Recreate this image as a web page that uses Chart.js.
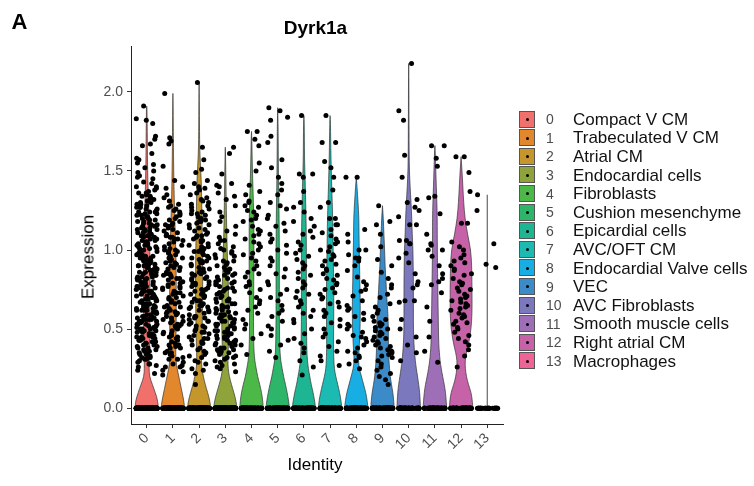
<!DOCTYPE html>
<html><head><meta charset="utf-8">
<script src="https://cdn.jsdelivr.net/npm/chart.js@4.4.0/dist/chart.umd.min.js"></script>
<style>
html,body{margin:0;padding:0;background:#fff;}
#wrap{position:relative;width:754px;height:486px;overflow:hidden;}
canvas{position:absolute;left:0;top:0;}
.t{position:absolute;font-family:"Liberation Sans",Arial,Helvetica,sans-serif;white-space:nowrap;line-height:1;}
.sw{position:absolute;box-sizing:border-box;border:1px solid #555;width:16px;height:17px;}
.sw i{position:absolute;left:6px;top:6.5px;width:3px;height:3px;border-radius:50%;background:#000;}
</style></head><body>
<div id="wrap">
<canvas id="c" width="754" height="486"></canvas>
<div class="t" style="left:11.5px;top:11.4px;font-weight:bold;font-size:22px;">A</div>
<div class="t" style="left:315.5px;top:17.5px;font-weight:bold;font-size:19px;transform:translateX(-50%);">Dyrk1a</div>
<div class="t" style="left:315px;top:455.8px;font-size:17px;transform:translateX(-50%);">Identity</div>
<div class="t" style="left:88px;top:257px;font-size:17px;transform:translate(-50%,-50%) rotate(-90deg);">Expression</div>
<div id="legend"></div>
</div>
<script>
const categories = ['0','1','2','3','4','5','6','7','8','9','10','11','12','13'];
const cellTypes = ['Compact V CM','Trabeculated V CM','Atrial CM','Endocardial cells','Fibroblasts','Cushion mesenchyme','Epicardial cells','AVC/OFT CM','Endocardial Valve cells','VEC','AVC Fibroblasts','Smooth muscle cells','Right atrial CM','Macrophages'];
const colors = ['#F1706C','#E2872C','#C4962B','#8EA33A','#4CB848','#2DB56A','#1EB592','#1BBAB2','#18AEE3','#3A8BC8','#7B78BE','#9E6FB6','#C562A8','#EE6496'];
const yTicks = [0.0, 0.5, 1.0, 1.5, 2.0];

// number of cells with zero expression per identity (estimated)
const zeroCells = [300,180,180,200,120,120,120,130,120,120,80,80,80,30];

// non-zero expression values per identity
const expr0 = [1.91,1.83,1.82,1.80,1.72,1.70,1.67,1.66,1.61,1.58,1.57,1.55,1.54,1.52,1.50,1.49,1.47,1.46,1.45,1.43,1.42,1.40,1.40,1.38,1.37,1.36,1.36,1.34,1.33,1.31,1.30,1.30,1.29,1.27,1.27,1.26,1.24,1.24,1.23,1.21,1.21,1.20,1.19,1.17,1.17,1.16,1.14,1.13,1.13,1.12,1.10,1.10,1.09,1.08,1.06,1.06,1.05,1.03,1.03,1.02,1.01,0.99,0.99,0.98,0.97,0.95,0.95,0.94,0.92,0.92,0.91,0.90,0.89,0.88,0.88,0.86,0.85,0.85,0.84,0.82,0.82,0.81,0.80,0.78,0.78,0.77,0.76,0.75,0.74,0.73,0.73,0.71,0.70,0.70,0.69,0.68,0.66,0.66,0.65,0.64,0.63,0.62,0.61,0.60,0.60,0.58,0.58,0.57,0.55,0.55,0.54,0.53,0.52,0.51,0.50,0.49,0.48,0.48,0.47,0.45,0.45,0.44,0.43,0.42,0.41,0.40,0.39,0.38,0.37,0.36,0.35,0.34,0.33,0.32,0.31,0.30,0.28,0.27,0.26,0.24,0.22,1.28,1.25,1.22,1.18,1.15,1.11,1.07,1.04,1.00,0.96,0.93,0.90,0.87,0.83,0.79,0.76,0.72,0.68,0.64,0.61,0.57,0.53,0.49,0.46,0.43,1.26,1.19,1.12,1.05,0.98,0.91,0.84,0.77,0.71,0.63,0.56,0.50,0.44,1.34,1.29,1.23,1.20,1.16,1.14,1.11,1.09,1.07,1.04,1.02,1.01,0.99,0.97,0.96,0.94,0.93,0.91,0.89,0.87,0.86,0.84,0.83,0.81,0.79,0.78,0.76,0.74,0.73,0.72,0.70,0.69,0.67,0.66,0.64,0.62,0.61,0.59,0.58,0.56,0.55,0.53,0.52,0.50,0.49,0.47,0.46,0.44,0.42,0.41,0.39,0.37,0.35,0.33,0.31,0.29,1.31,1.24,1.18,1.13,1.08,1.05,1.01,0.97,0.94,0.90,0.86,0.83,0.80,0.77,0.74,0.71,0.68,0.65,0.62,0.59,0.56,0.53,0.50,0.47,0.43,0.40,0.36,0.32,1.39,1.35,1.32,1.27,1.22,1.15,1.09,1.03,0.96,0.89,0.82,0.75,0.69,0.62,0.57,0.51,0.45,0.38,0.34,0.28];
const expr1 = [1.99,1.71,1.69,1.67,1.53,1.44,1.40,1.39,1.35,1.33,1.29,1.27,1.26,1.24,1.22,1.21,1.19,1.18,1.16,1.15,1.14,1.12,1.11,1.09,1.08,1.07,1.05,1.04,1.03,1.01,1.00,0.99,0.97,0.96,0.95,0.93,0.92,0.91,0.89,0.88,0.87,0.85,0.84,0.83,0.81,0.80,0.79,0.77,0.76,0.75,0.73,0.72,0.71,0.69,0.68,0.67,0.65,0.64,0.63,0.61,0.60,0.59,0.57,0.56,0.55,0.53,0.52,0.50,0.49,0.47,0.46,0.44,0.43,0.41,0.40,0.38,0.36,0.35,0.33,0.31,0.29,0.28,0.26,0.24,0.21,1.23,1.13,1.06,0.98,0.94,0.90,0.86,0.82,0.78,0.74,0.70,0.66,0.62,0.58,0.54,0.51,0.45,0.39,0.34,0.27,1.31,1.25,1.20,1.17,1.10,1.07,1.02,0.99,0.95,0.92,0.89,0.85,0.82,0.79,0.76,0.73,0.70,0.67,0.64,0.61,0.58,0.55,0.52,0.48,0.45,0.42,0.38,0.35,0.31,0.26,1.28,1.16,1.08,1.00,0.91,0.84,0.77,0.69,0.60,0.53,0.47,0.40,0.32,0.23];
const expr2 = [2.06,1.65,1.57,1.51,1.49,1.44,1.42,1.40,1.38,1.36,1.35,1.32,1.30,1.29,1.27,1.26,1.24,1.23,1.21,1.20,1.18,1.17,1.16,1.14,1.13,1.11,1.10,1.09,1.07,1.06,1.04,1.03,1.02,1.00,0.99,0.98,0.96,0.95,0.93,0.92,0.91,0.89,0.88,0.86,0.85,0.84,0.82,0.81,0.79,0.78,0.77,0.75,0.74,0.72,0.71,0.70,0.68,0.67,0.65,0.64,0.63,0.61,0.60,0.58,0.57,0.56,0.54,0.53,0.51,0.50,0.48,0.47,0.45,0.44,0.42,0.40,0.38,0.36,0.34,0.32,0.30,0.28,0.25,0.22,0.15,1.25,1.19,1.12,1.05,1.01,0.97,0.94,0.90,0.87,0.83,0.80,0.76,0.73,0.69,0.66,0.62,0.59,0.55,0.52,0.46,0.41,1.33,1.28,1.22,1.18,1.14,1.09,1.06,1.02,0.99,0.95,0.92,0.88,0.85,0.82,0.78,0.75,0.72,0.68,0.65,0.62,0.58,0.55,0.52,0.48,0.44,0.41,0.37,0.33,0.29,0.24,1.39,1.31,1.23,1.16,1.08,1.00,0.93,0.86,0.79,0.71,0.64,0.57,0.49,0.43,0.35];
const expr3 = [1.65,1.61,1.48,1.42,1.41,1.40,1.36,1.34,1.32,1.28,1.24,1.21,1.18,1.15,1.12,1.10,1.08,1.06,1.04,1.02,1.00,0.98,0.97,0.95,0.93,0.92,0.90,0.89,0.87,0.86,0.84,0.83,0.82,0.80,0.79,0.78,0.76,0.75,0.74,0.73,0.71,0.70,0.69,0.68,0.67,0.65,0.64,0.63,0.62,0.61,0.60,0.59,0.58,0.57,0.56,0.55,0.54,0.53,0.52,0.51,0.50,0.49,0.48,0.47,0.46,0.45,0.44,0.43,0.42,0.41,0.40,0.39,0.38,0.37,0.36,0.35,0.34,0.33,0.32,0.30,0.29,0.27,0.25,0.23,0.91,0.85,0.81,0.77,0.72,0.66,0.62,0.58,0.54,0.50,0.47,0.44,0.40,0.36,0.31,1.06,1.01,0.96,0.93,0.88,0.84,0.79,0.76,0.73,0.69,0.66,0.63,0.60,0.57,0.55,0.52,0.49,0.46,0.43,0.41,0.38,0.35,0.32,0.28,0.99,0.87,0.80,0.74,0.68,0.64,0.59,0.53,0.48,0.42,0.37,0.26];
const expr4 = [1.75,1.75,1.70,1.66,1.55,1.50,1.41,1.37,1.35,1.31,1.30,1.28,1.27,1.25,1.24,1.22,1.20,1.19,1.18,1.15,1.13,1.12,1.10,1.09,1.07,1.05,1.04,1.02,1.00,0.98,0.97,0.95,0.93,0.90,0.88,0.86,0.85,0.83,0.80,0.78,0.77,0.75,0.73,0.70,0.68,0.66,0.64,0.62,0.60,0.56,0.53,0.50,0.47,0.44,0.40,0.34];
const expr5 = [1.90,1.88,1.84,1.82,1.72,1.68,1.57,1.52,1.46,1.42,1.38,1.35,1.30,1.28,1.26,1.22,1.20,1.17,1.15,1.12,1.10,1.07,1.05,1.03,1.00,0.98,0.95,0.93,0.90,0.88,0.85,0.83,0.80,0.78,0.75,0.72,0.70,0.68,0.65,0.62,0.60,0.58,0.55,0.52,0.50,0.46,0.43,0.40,0.36,0.32];
const expr6 = [1.85,1.48,1.48,1.46,1.37,1.30,1.27,1.24,1.20,1.18,1.15,1.12,1.10,1.08,1.05,1.03,1.00,0.98,0.96,0.94,0.92,0.90,0.88,0.86,0.84,0.82,0.80,0.78,0.76,0.74,0.72,0.70,0.68,0.66,0.64,0.62,0.60,0.58,0.56,0.54,0.50,0.47,0.44,0.41,0.38,0.35,0.30,0.26,0.21];
const expr7 = [1.85,1.68,1.68,1.56,1.52,1.46,1.38,1.30,1.27,1.20,1.20,1.16,1.16,1.13,1.11,1.09,1.07,1.05,1.04,1.02,1.00,0.99,0.97,0.96,0.94,0.93,0.91,0.90,0.88,0.87,0.85,0.84,0.82,0.81,0.79,0.78,0.76,0.75,0.73,0.72,0.70,0.69,0.67,0.66,0.64,0.62,0.60,0.58,0.56,0.54,0.52,0.50,0.47,0.45,0.42,0.39,0.36,0.33,0.30,0.27];
const expr8 = [1.46,1.46,1.13,1.10,1.05,1.00,1.00,0.97,0.95,0.95,0.93,0.90,0.87,0.83,0.80,0.78,0.75,0.74,0.71,0.68,0.65,0.63,0.62,0.60,0.58,0.56,0.53,0.52,0.50,0.48,0.46,0.45,0.44,0.42,0.40,0.38,0.36,0.35,0.33,0.32,0.30,0.28,0.25];
const expr9 = [1.28,1.18,1.16,1.10,1.02,0.94,0.90,0.86,0.82,0.78,0.76,0.72,0.70,0.66,0.64,0.62,0.60,0.58,0.56,0.55,0.54,0.53,0.52,0.51,0.50,0.49,0.48,0.47,0.46,0.45,0.44,0.43,0.42,0.41,0.40,0.39,0.38,0.37,0.36,0.35,0.34,0.33,0.32,0.30,0.28,0.26,0.24,0.22,0.20,0.18,0.15];
const expr10 = [2.18,1.88,1.82,1.60,1.46,1.32,1.30,1.27,1.25,1.21,1.16,1.16,1.06,1.06,1.04,1.04,0.98,0.95,0.92,0.85,0.80,0.78,0.76,0.68,0.68,0.67,0.56,0.50,0.45,0.40,0.35,0.30];
const expr11 = [1.66,1.66,1.58,1.53,1.34,1.33,1.23,1.10,1.04,1.03,1.00,1.00,0.96,0.90,0.85,0.82,0.80,0.78,0.73,0.64,0.55,0.45,0.36,0.29];
const expr12 = [1.59,1.59,1.49,1.37,1.17,1.17,1.05,1.02,1.00,0.97,0.95,0.93,0.92,0.90,0.88,0.87,0.85,0.84,0.82,0.80,0.79,0.78,0.76,0.75,0.74,0.72,0.71,0.70,0.69,0.68,0.67,0.66,0.65,0.64,0.63,0.62,0.60,0.59,0.58,0.57,0.55,0.54,0.53,0.51,0.50,0.48,0.46,0.44,0.42,0.40,0.37,0.33,0.26];
const expr13 = [1.35,1.25,1.04,0.91,0.89];

// violin outline: relative half-width at each expression level
const violinLevels = [0,0.05,0.1,0.15,0.2,0.25,0.3,0.35,0.4,0.5,0.6,0.7,0.8,0.9,1.0,1.1,1.2,1.3,1.4,1.5,1.6,1.7,1.8,1.9,2.0,2.1];
const vw0 = [1,.93,.72,.48,.24,.2,.21,.23,.25,.27,.28,.28,.28,.28,.26,.24,.2,.15,.11,.08,.06,.05,.04,.02];
const vw1 = [1,.92,.78,.64,.5,.36,.26,.24,.25,.27,.28,.28,.28,.27,.24,.2,.16,.12,.09,.07,.05,.04,.03,.02];
const vw2 = [1,.9,.72,.52,.36,.24,.2,.21,.23,.26,.28,.3,.3,.3,.28,.26,.24,.22,.2,.14,.07,.04,.03,.02,.01];
const vw3 = [1,.9,.72,.52,.34,.24,.22,.24,.26,.3,.3,.28,.25,.2,.16,.13,.1,.08,.06,.04,.02];
const vw4 = [1,.95,.85,.7,.52,.4,.28,.22,.19,.17,.17,.18,.19,.2,.2,.2,.19,.16,.12,.08,.05,.03];
const vw5 = [1,.92,.8,.66,.5,.38,.26,.2,.17,.15,.14,.14,.14,.14,.14,.13,.12,.1,.08,.06,.05,.04,.03,.02];
const vw6 = [1,.9,.78,.62,.5,.38,.3,.26,.24,.22,.21,.21,.21,.21,.21,.2,.18,.15,.12,.08,.05,.04,.03];
const vw7 = [1,.93,.8,.65,.48,.36,.32,.3,.29,.3,.31,.31,.3,.28,.26,.24,.22,.18,.14,.1,.07,.05,.03];
const vw8 = [1,.92,.8,.62,.44,.26,.18,.22,.26,.32,.34,.33,.3,.28,.25,.23,.22,.15,.06];
const vw9 = [1,.95,.88,.76,.66,.6,.55,.52,.5,.5,.46,.36,.3,.22,.18,.12,.07];
const vw10 = [1,.97,.93,.85,.75,.65,.56,.5,.45,.4,.4,.4,.4,.38,.36,.3,.26,.2,.12,.06,.04,.03,.03,.02,.02,.01];
const vw11 = [1,.96,.9,.8,.66,.54,.44,.38,.33,.3,.28,.26,.24,.22,.21,.2,.2,.17,.12,.08,.04];
const vw12 = [1,.95,.85,.62,.45,.36,.34,.45,.62,.85,.93,.93,.92,.9,.82,.55,.33,.22,.15,.08];
const vw13 = [0];

const exprAll = [expr0,expr1,expr2,expr3,expr4,expr5,expr6,expr7,expr8,expr9,expr10,expr11,expr12,expr13];
const vwAll = [vw0,vw1,vw2,vw3,vw4,vw5,vw6,vw7,vw8,vw9,vw10,vw11,vw12,vw13];

// jittered points (horizontal jitter only, like geom_jitter(height = 0)); deterministic spread
const points = [];
exprAll.forEach((vals, c) => {
  const all = new Array(zeroCells[c]).fill(0).concat(vals);
  all.forEach((v, i) => {
    const u = (i * i * 0.41421356 + i * 0.70710678 + c * 0.31) % 1;
    points.push({x: c + (u - 0.5) * 0.8, y: v});
  });
});

const violinPlugin = {
  id: 'violins',
  beforeDatasetsDraw(chart) {
    const {ctx, scales: {x, y}} = chart;
    ctx.save();
    exprAll.forEach((vals, c) => {
      const top = Math.max(...vals);
      const w = vwAll[c];
      const prof = [];
      for (let k = 0; k < w.length; k++) if (violinLevels[k] < top) prof.push([violinLevels[k], w[k]]);
      prof.push([top, 0]);
      const R = prof.map(([v, f]) => [x.getPixelForValue(c + f * 0.45), y.getPixelForValue(v)]);
      const L = prof.map(([v, f]) => [x.getPixelForValue(c - f * 0.45), y.getPixelForValue(v)]).reverse();
      const pts = R.concat(L);
      ctx.beginPath();
      ctx.moveTo(pts[0][0], pts[0][1]);
      for (let i = 1; i < pts.length - 1; i++) {
        const mx = (pts[i][0] + pts[i + 1][0]) / 2, my = (pts[i][1] + pts[i + 1][1]) / 2;
        ctx.quadraticCurveTo(pts[i][0], pts[i][1], mx, my);
      }
      ctx.lineTo(pts[pts.length - 1][0], pts[pts.length - 1][1]);
      ctx.closePath();
      ctx.fillStyle = colors[c];
      ctx.fill();
      ctx.strokeStyle = c === 13 ? '#666' : '#333';
      ctx.lineWidth = c === 13 ? 1.2 : 0.7;
      ctx.stroke();
    });
    ctx.restore();
  }
};

const FONT = '"Liberation Sans", Arial, Helvetica, sans-serif';
new Chart(document.getElementById('c'), {
  type: 'scatter',
  data: {datasets: [{data: points, backgroundColor: '#000', borderWidth: 0, pointRadius: 2.5, pointHoverRadius: 2.5}]},
  options: {
    responsive: false, animation: false, devicePixelRatio: 1,
    layout: {padding: {left: 0, top: 46, right: 251, bottom: 0}},
    plugins: {legend: {display: false}, tooltip: {enabled: false}, title: {display: false}},
    events: [],
    scales: {
      x: {
        type: 'linear', min: -0.6, max: 13.6,
        afterBuildTicks: s => { s.ticks = categories.map((_, i) => ({value: i})); },
        afterFit: s => { s.height = 62; s.paddingLeft = 0; s.paddingRight = 0; },
        ticks: {callback: v => categories[v], minRotation: 45, maxRotation: 45, autoSkip: false, color: '#4d4d4d', font: {family: FONT, size: 14}, padding: 2},
        grid: {display: true, drawOnChartArea: false, drawTicks: true, tickLength: 4, color: '#333', lineWidth: 1},
        border: {display: true, color: '#222', width: 1}
      },
      y: {
        min: -0.1, max: 2.29,
        afterBuildTicks: s => { s.ticks = yTicks.map(v => ({value: v})); },
        afterFit: s => { s.width = 131; },
        ticks: {callback: v => Number(v).toFixed(1), color: '#4d4d4d', font: {family: FONT, size: 14}, padding: 4},
        grid: {display: true, drawOnChartArea: false, drawTicks: true, tickLength: 4, color: '#333', lineWidth: 1},
        border: {display: true, color: '#222', width: 1}
      }
    }
  },
  plugins: [violinPlugin]
});

// legend
const lg = document.getElementById('legend');
categories.forEach((cat, i) => {
  const yc = 119 + 18.6 * i;
  const sw = document.createElement('div');
  sw.className = 'sw';
  sw.style.left = '519px'; sw.style.top = (yc - 8.5) + 'px'; sw.style.background = colors[i];
  sw.appendChild(document.createElement('i'));
  lg.appendChild(sw);
  const n = document.createElement('div');
  n.className = 't'; n.textContent = cat;
  n.style.cssText += 'left:546px;top:' + (yc - 6.85) + 'px;font-size:14px;color:#4d4d4d;';
  lg.appendChild(n);
  const l = document.createElement('div');
  l.className = 't'; l.textContent = cellTypes[i];
  l.style.cssText += 'left:573px;top:' + (yc - 8.3) + 'px;font-size:17px;color:#111;';
  lg.appendChild(l);
});
</script>
</body></html>
